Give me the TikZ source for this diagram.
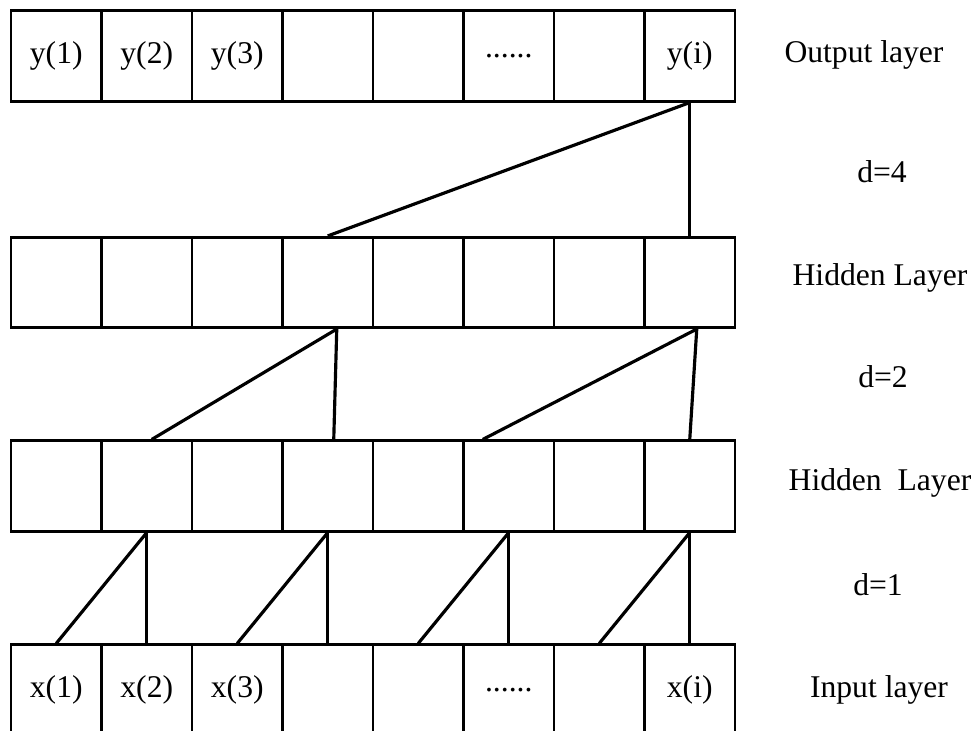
\documentclass[tikz,border=0pt]{standalone}
\usepackage{fontspec}
\setmainfont{Liberation Serif}
\usepackage{tikz}
\usetikzlibrary{positioning}

\begin{document}
\begin{tikzpicture}[font=\fontsize{18}{21}\selectfont,
cell/.style={draw,rectangle,minimum size=1.81cm,inner sep=0pt,line width=1.5pt},
link/.style={line width=1.8pt},
side/.style={anchor=center}]
\useasboundingbox (0,0) rectangle (19.58,14.6);
% output layer
\node[cell] (o1) at (1.125,13.48) {y(1)};
\node[cell] (o2) at (2.935,13.48) {y(2)};
\node[cell] (o3) at (4.745,13.48) {y(3)};
\node[cell] (o4) at (6.555,13.48) {};
\node[cell] (o5) at (8.365,13.48) {};
\node[cell] (o6) at (10.175,13.48) {......};
\node[cell] (o7) at (11.985,13.48) {};
\node[cell] (o8) at (13.795,13.48) {y(i)};
% hidden layer, d=2
\node[cell] (h1) at (1.125,8.95) {};
\node[cell] (h2) at (2.935,8.95) {};
\node[cell] (h3) at (4.745,8.95) {};
\node[cell] (h4) at (6.555,8.95) {};
\node[cell] (h5) at (8.365,8.95) {};
\node[cell] (h6) at (10.175,8.95) {};
\node[cell] (h7) at (11.985,8.95) {};
\node[cell] (h8) at (13.795,8.95) {};
% hidden layer, d=1
\node[cell] (g1) at (1.125,4.88) {};
\node[cell] (g2) at (2.935,4.88) {};
\node[cell] (g3) at (4.745,4.88) {};
\node[cell] (g4) at (6.555,4.88) {};
\node[cell] (g5) at (8.365,4.88) {};
\node[cell] (g6) at (10.175,4.88) {};
\node[cell] (g7) at (11.985,4.88) {};
\node[cell] (g8) at (13.795,4.88) {};
% input layer
\node[cell] (i1) at (1.125,0.8) {x(1)};
\node[cell] (i2) at (2.935,0.8) {x(2)};
\node[cell] (i3) at (4.745,0.8) {x(3)};
\node[cell] (i4) at (6.555,0.8) {};
\node[cell] (i5) at (8.365,0.8) {};
\node[cell] (i6) at (10.175,0.8) {......};
\node[cell] (i7) at (11.985,0.8) {};
\node[cell] (i8) at (13.795,0.8) {x(i)};
% dilated links
\draw[link] (o8.south)--(h4.north);\draw[link] (o8.south)--(h8.north);
\draw[link] ([xshift=.18cm]h4.south)--([xshift=.1cm]g2.north);
\draw[link] ([xshift=.18cm]h4.south)--([xshift=.12cm]g4.north);
\draw[link] ([xshift=.14cm]h8.south)--([xshift=-.52cm]g6.north);
\draw[link] ([xshift=.14cm]h8.south)--(g8.north);
\draw[link] (g2.south)--(i1.north);\draw[link] (g2.south)--(i2.north);
\draw[link] (g4.south)--(i3.north);\draw[link] (g4.south)--(i4.north);
\draw[link] (g6.south)--(i5.north);\draw[link] (g6.south)--(i6.north);
\draw[link] (g8.south)--(i7.north);\draw[link] (g8.south)--(i8.north);
% layer names
\node[side] (nout) at (17.28,13.5) {Output layer};
\node[side] (d4) at (17.64,11.16) {d=4};
\node[side] (nh2) at (17.6,9.05) {Hidden Layer};
\node[side] (d2) at (17.66,7.06) {d=2};
\node[side] (nh1) at (17.6,4.95) {Hidden\ \ Layer};
\node[side] (d1) at (17.56,2.9) {d=1};
\node[side] (nin) at (17.58,0.8) {Input layer};
\end{tikzpicture}
\end{document}
